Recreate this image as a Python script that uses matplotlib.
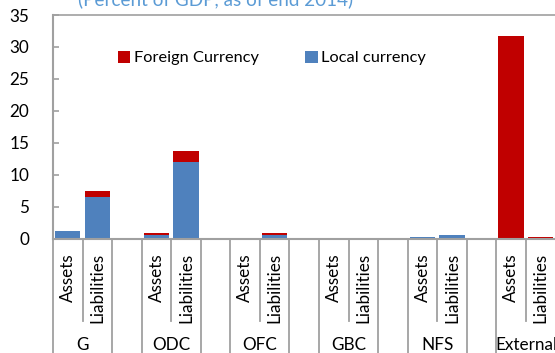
import matplotlib
matplotlib.use("Agg")
import matplotlib.pyplot as plt
from matplotlib.lines import Line2D
import numpy as np

# Sectors and the two positions shown for each
groups = ["G", "ODC", "OFC", "GBC", "NFS", "External"]
sides = ["Assets", "Liabilities"]

# Percent of GDP, ordered G-Assets, G-Liabilities, ODC-Assets, ...
local_ccy = [1.2, 6.5, 0.5, 12.0, 0.0, 0.5, 0.0, 0.0, 0.25, 0.55, 0.0, 0.0]
foreign_ccy = [0.0, 0.9, 0.35, 1.65, 0.0, 0.3, 0.0, 0.0, 0.0, 0.0, 31.7, 0.25]

y_ticks = [0, 5, 10, 15, 20, 25, 30, 35]
title = "(Percent of GDP, as of end 2014)"

RED = "#C00000"
BLUE = "#4F81BD"
GREY = "#A0A0A0"
FONT = ["Lato", "DejaVu Sans"]
FS = 12.3
FS_LEG = 11.8

plt.rcParams["font.family"] = FONT

W, H = 555, 353
fig = plt.figure(figsize=(W / 100, H / 100), dpi=100)

# axes box in pixels: left 53, right ~555.5, bottom (from top) 238.5, top 15
slot_px = 29.56
n_slots = 3 * len(groups) - 1
left, right = 53, 53 + n_slots * slot_px
top, bottom = 15, 238.5
ax = fig.add_axes([left / W, (H - bottom) / H, (right - left) / W, (bottom - top) / H])

# each sector takes three slots: Assets, Liabilities, empty spacer
pos = []
for g in range(len(groups)):
    for s in range(len(sides)):
        pos.append(3 * g + s + 0.5)
pos = np.array(pos)

b_local = ax.bar(pos, local_ccy, width=0.86, color=BLUE, label="Local currency", zorder=2)
b_foreign = ax.bar(pos, foreign_ccy, width=0.86, bottom=local_ccy, color=RED,
                   label="Foreign Currency", zorder=2)

ax.set_xlim(0, n_slots)
ax.set_ylim(0, 35)
ax.set_yticks(y_ticks)
ax.tick_params(axis="y", direction="in", length=4, width=1.2, color=GREY,
               labelsize=FS, pad=17)
ax.set_xticks([])

for side in ["left", "bottom", "top"]:
    ax.spines[side].set_color(GREY)
    ax.spines[side].set_linewidth(1.5)
ax.spines["right"].set_visible(False)
ax.spines["top"].set_linewidth(1.2)

# category separators running through the label area
trans = ax.get_xaxis_transform()
long_x = [0]
short_x = []
for g in range(len(groups)):
    short_x.append(3 * g + 1)
    long_x.append(3 * g + 2)
    if g < len(groups) - 1:
        long_x.append(3 * g + 3)
for x in long_x:
    ax.add_line(Line2D([x, x], [0, -0.7], transform=trans, color=GREY, lw=1.3, clip_on=False))
for x in short_x:
    ax.add_line(Line2D([x, x], [0, -0.369], transform=trans, color=GREY, lw=1.3, clip_on=False))

# sub-category and sector labels
for i, p in enumerate(pos):
    ax.text(p, -0.065, sides[i % 2], transform=trans, rotation=90, ha="center", va="top",
            fontsize=FS, color="black")
for g, name in enumerate(groups):
    ax.text(3 * g + 1, -0.497, name, transform=trans, ha="center", va="baseline",
            fontsize=FS, color="black")

leg = ax.legend(handles=[b_foreign, b_local], ncol=2, frameon=False, fontsize=FS_LEG,
                loc="center", bbox_to_anchor=(272 / W, 1 - 58 / H),
                bbox_transform=fig.transFigure, handlelength=0.75, handleheight=0.75,
                handletextpad=0.2, columnspacing=2.85)

fig.text(78 / W, 1 - 5 / H, title, ha="left", va="baseline", fontsize=13.6, color="#5B9BD5")

fig.savefig("out.png", dpi=100)
